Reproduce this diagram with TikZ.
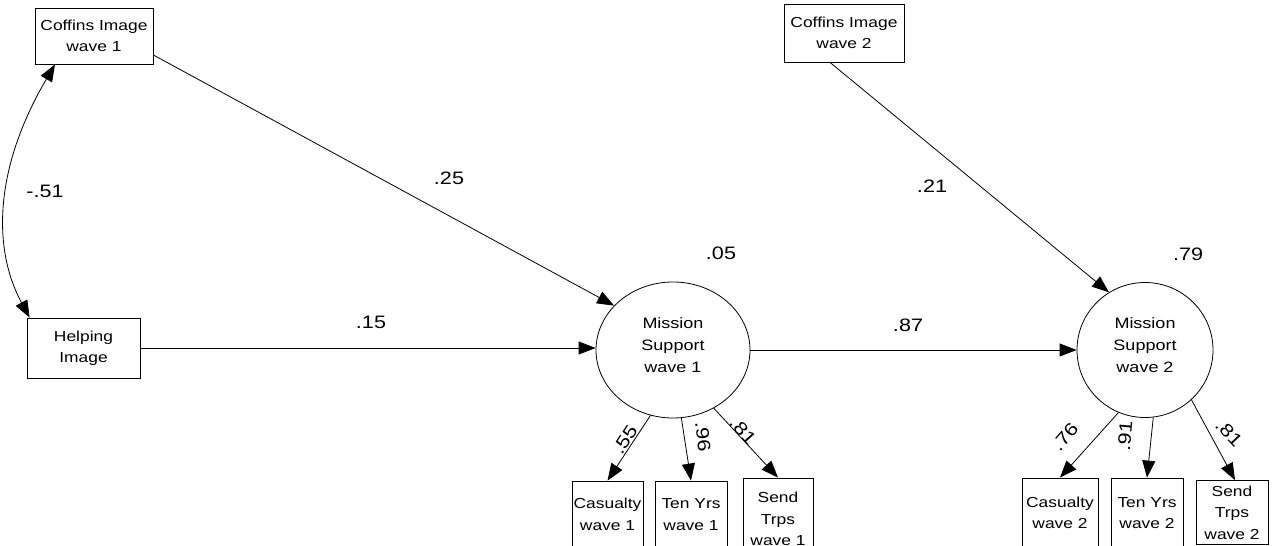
\documentclass[tikz,border=0pt]{standalone}
\usepackage{fontspec}
\setmainfont{Liberation Sans}[FakeStretch=1.2]
\usetikzlibrary{arrows.meta,shapes.geometric}
\begin{document}
\begin{tikzpicture}[x=1pt,y=-1pt,
  every path/.style={line width=0.8pt},
  tip/.style={-{Triangle[length=17pt,width=13pt]}},
  dbl/.style={{Triangle[length=17pt,width=13pt]}-{Triangle[length=17pt,width=13pt]}},
  obs/.style={draw,line width=0.8pt,inner sep=0pt,align=center,font=\fontsize{14.5}{21.5}\selectfont},
  lat/.style={draw,ellipse,line width=0.8pt,inner sep=0pt},
  lattext/.style={align=center,inner sep=0pt,yshift=5pt,font=\fontsize{15}{22}\selectfont},
  lbl/.style={inner sep=0pt,font=\fontsize{18}{20}\selectfont}]
\useasboundingbox (0,0) rectangle (1277,546);
% observed exogenous
\node[obs,minimum width=118pt,minimum height=56pt] (c1) at (94,36) {Coffins Image\\wave 1};
\node[obs,minimum width=113pt,minimum height=60pt] (help) at (83.5,348) {Helping\\Image};
\node[obs,minimum width=120pt,minimum height=58pt] (c2) at (844,33) {Coffins Image\\wave 2};
% latent
\node[lat,minimum width=154pt,minimum height=136pt,
      label={[lattext]center:{Mission\\Support\\wave 1}}] (m1) at (673,350) {};
\node[lat,minimum width=136pt,minimum height=135pt,
      label={[lattext]center:{Mission\\Support\\wave 2}}] (m2) at (1145,350) {};
% indicators wave 1
\node[obs,minimum width=71pt,minimum height=67pt] (cas1) at (607.5,514.5) {Casualty\\wave 1};
\node[obs,minimum width=72pt,minimum height=67pt] (ten1) at (691,514.5) {Ten Yrs\\wave 1};
\node[obs,minimum width=70pt,minimum height=82pt] (send1) at (778,519) {Send\\Trps\\wave 1};
% indicators wave 2
\node[obs,minimum width=76pt,minimum height=70pt] (cas2) at (1060,513) {Casualty\\wave 2};
\node[obs,minimum width=72pt,minimum height=70pt] (ten2) at (1147,513) {Ten Yrs\\wave 2};
\node[obs,minimum width=72pt,minimum height=64pt] (send2) at (1232,512.5) {Send\\Trps\\wave 2};
% paths
\draw[dbl] ([xshift=-39pt]c1.south) .. controls (-7,170) and (-7,250) .. ([xshift=3pt]help.north west);
\draw[tip] ([yshift=-19pt]c1.east) -- (m1.143);
\draw[tip] (help.east) -- (help.east -| m1.west);
\draw[tip] (m1.east) -- (m2.west);
\draw[tip] ([xshift=-14pt]c2.south) -- (m2.122);
\draw[tip] (m1.-109) -- (cas1.north);
\draw[tip] (m1.-83) -- (ten1.north);
\draw[tip] (m1.-55) -- (send1.north);
\draw[tip] (m2.-113) -- (cas2.north);
\draw[tip] (m2.-83) -- (ten2.north);
\draw[tip] (m2.-47) -- ([xshift=3pt]send2.north);
% labels
\node[lbl] (l51) at (45,191) {-.51};
\node[lbl] (l25) at (449,178) {.25};
\node[lbl] (l15) at (371,322) {.15};
\node[lbl] (l05) at (721,253) {.05};
\node[lbl] (l87) at (908,325) {.87};
\node[lbl] (l21) at (932,186) {.21};
\node[lbl] (l79) at (1188,254) {.79};
\node[lbl,rotate=57] (l55) at (625,440) {.55};
\node[lbl,rotate=-83] (l96) at (703,437) {.96};
\node[lbl,rotate=-48] (l81a) at (743,431) {.81};
\node[lbl,rotate=49] (l76) at (1065,437) {.76};
\node[lbl,rotate=85] (l91) at (1125,436) {.91};
\node[lbl,rotate=-47] (l81b) at (1229,433) {.81};
\end{tikzpicture}
\end{document}
